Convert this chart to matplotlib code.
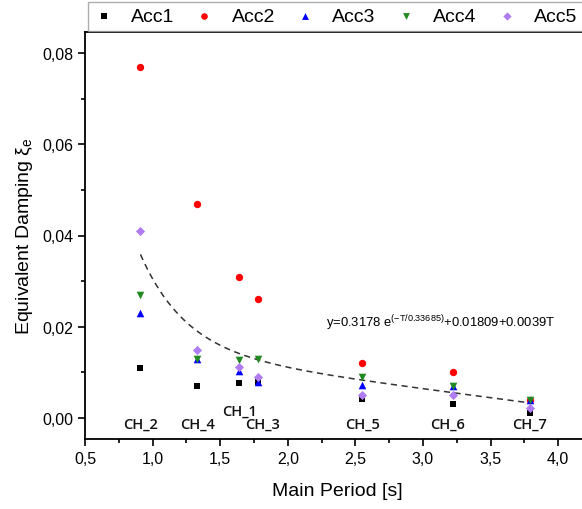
#!/usr/bin/env python3
"""Equivalent damping vs main period for five accelerometers, with fitted decay curve."""
import numpy as np
import matplotlib
matplotlib.use("Agg")
import matplotlib.pyplot as plt
from matplotlib.ticker import FuncFormatter, MultipleLocator

plt.rcParams["mathtext.fontset"] = "custom"
plt.rcParams["mathtext.rm"] = "Liberation Sans"
plt.rcParams["mathtext.it"] = "Liberation Sans"

# main period of each building (s)
PERIOD = [0.91, 1.33, 1.64, 1.78, 2.55, 3.22, 3.79]
CH_LABELS = ["CH_2", "CH_4", "CH_1", "CH_3", "CH_5", "CH_6", "CH_7"]

ACC1 = [0.011, 0.007, 0.0076, 0.008, 0.0041, 0.0031, 0.0010]
ACC2 = [0.077, 0.047, 0.031, 0.026, 0.012, 0.010, 0.004]
ACC3 = [0.023, 0.013, 0.0102, 0.008, 0.0073, 0.007, 0.004]
ACC4 = [0.027, 0.013, 0.0127, 0.013, 0.0089, 0.007, 0.004]
ACC5 = [0.041, 0.015, 0.0111, 0.009, 0.0051, 0.005, 0.0021]

# fitted curve coefficients
FIT_A, FIT_T0, FIT_C, FIT_B = 0.3178, 0.33685, 0.01809, -0.0039
FIT_LABEL = r"y=0.3178 e$^{\mathregular{(-T/0.33685)}}$+0.01809+0.0039T"

# (values, label, marker, color, size)
SERIES = [
    (ACC1, "Acc1", "s", "#000000", 24),
    (ACC2, "Acc2", "o", "#ff0000", 28),
    (ACC3, "Acc3", "^", "#0000ff", 30),
    (ACC4, "Acc4", "v", "#218a21", 30),
    (ACC5, "Acc5", "D", "#b07cf2", 22),
]

# label positions in data units
CH_POS = [(0.91, -0.0012), (1.33, -0.0012), (1.64, 0.0016), (1.81, -0.0012),
          (2.55, -0.0012), (3.18, -0.0012), (3.79, -0.0012)]

W, H = 582, 510
fig = plt.figure(figsize=(W / 100, H / 100), dpi=100)
ax = fig.add_axes([85 / W, 1 - 440 / H, (590 - 85) / W, (440 - 33) / H])

for vals, lab, mk, col, s in SERIES:
    ax.scatter(PERIOD, vals, marker=mk, color=col, s=s, lw=0, label=lab, zorder=3)

t = np.linspace(PERIOD[0], PERIOD[-1], 200)
ax.plot(t, FIT_A * np.exp(-t / FIT_T0) + FIT_C + FIT_B * t,
        ls=(0, (4, 3)), color="#333333", lw=1.1, zorder=2)

ax.text(2.28, 0.0209, FIT_LABEL, fontsize=9.4, va="center", ha="left",
        family="Liberation Sans")
for (x, y), lab in zip(CH_POS, CH_LABELS):
    ax.text(x, y, lab, fontsize=10.5, ha="center", va="center", family="Open Sans",
            fontweight="semibold", color="#111111")

ax.set_xlim(0.5, 0.5 + (590 - 85) / 135.2)
ax.set_ylim(-0.0046, 0.0846)
ax.xaxis.set_major_locator(MultipleLocator(0.5))
ax.xaxis.set_minor_locator(MultipleLocator(0.25))
ax.yaxis.set_major_locator(MultipleLocator(0.02))
ax.yaxis.set_minor_locator(MultipleLocator(0.01))
ax.xaxis.set_major_formatter(FuncFormatter(lambda v, p: f"{v:.1f}".replace(".", ",")))
ax.yaxis.set_major_formatter(FuncFormatter(lambda v, p: f"{v:.2f}".replace(".", ",")))
ax.tick_params(which="both", direction="out", top=False, right=False,
               labelsize=11.5, width=1.2)
ax.tick_params(which="major", length=5)
ax.tick_params(which="minor", length=3)
for sp in ax.spines.values():
    sp.set_linewidth(1.3)

ax.set_xlabel("Main Period [s]", fontsize=14, labelpad=12, family="Liberation Sans")
ax.set_ylabel(r"Equivalent Damping $\xi_e$", fontsize=14, labelpad=5,
              family="Liberation Sans")
for lab in ax.get_xticklabels() + ax.get_yticklabels():
    lab.set_family("Liberation Sans")

leg = fig.legend(loc="upper left", bbox_to_anchor=(88 / W, 1 - 3 / H), ncol=5,
                 frameon=True, fancybox=False, edgecolor="#999999",
                 handlelength=1.0, handletextpad=0.9, columnspacing=1.05,
                 borderpad=0.3, borderaxespad=0.0, markerscale=0.9,
                 prop={"family": "Liberation Sans", "size": 14})
leg.get_frame().set_linewidth(1.0)

fig.savefig("out.png", dpi=100)
